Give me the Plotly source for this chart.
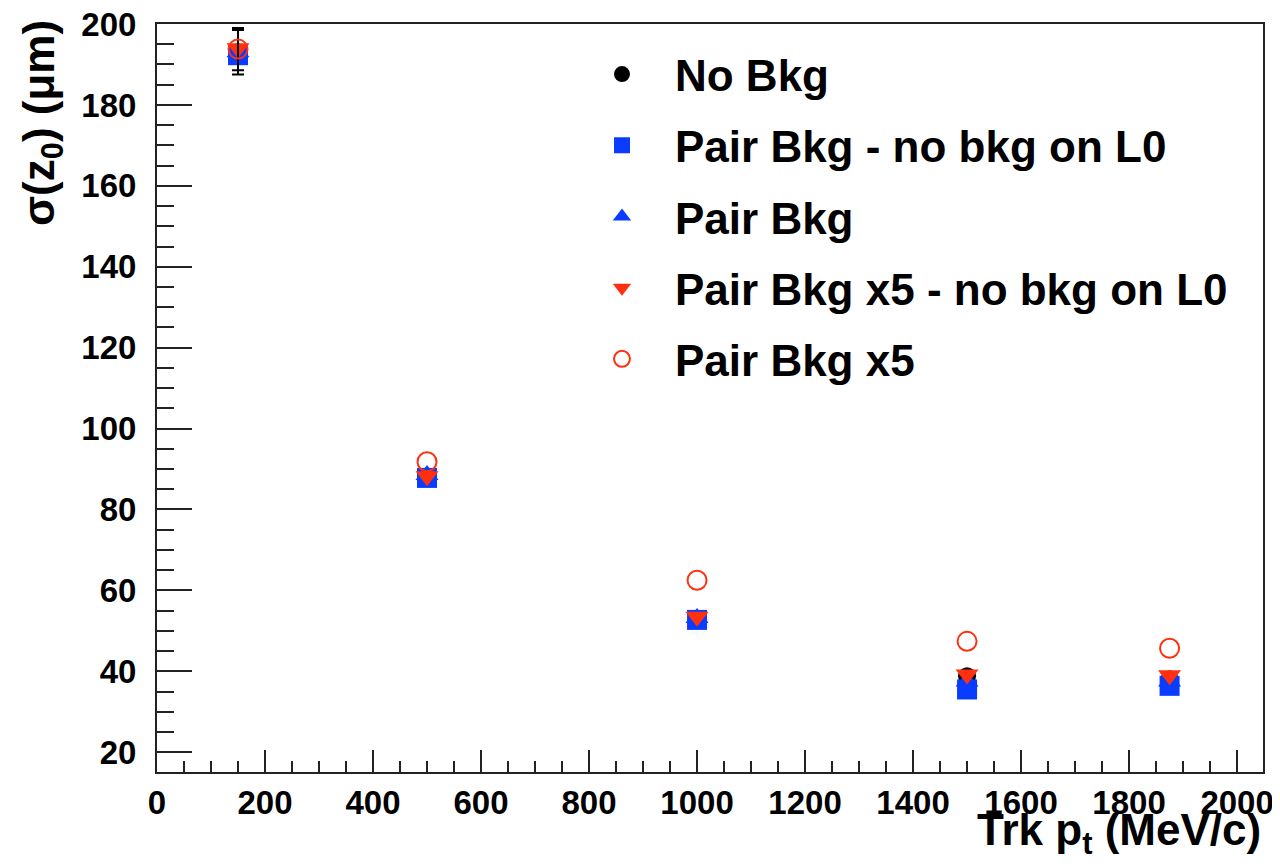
import plotly.graph_objects as go

# ---- data ----
pt = [150, 500, 1000, 1500, 1875]
no_bkg = [193.0, 88.0, 53.0, 38.8, 38.0]
no_bkg_err = [5.5]
pair_noL0 = [192.3, 87.8, 52.7, 35.5, 36.4]
pair = [193.0, 88.5, 53.2, 37.5, 37.5]
pair5_noL0 = [194.0, 88.2, 53.5, 39.2, 39.0]
pair5 = [193.8, 91.8, 62.5, 47.4, 45.7]
pair5_err = [5.2]

series_names = ["No Bkg", "Pair Bkg - no bkg on L0", "Pair Bkg",
                "Pair Bkg x5 - no bkg on L0", "Pair Bkg x5"]

x_ticks = [0, 200, 400, 600, 800, 1000, 1200, 1400, 1600, 1800, 2000]
y_ticks = [20, 40, 60, 80, 100, 120, 140, 160, 180, 200]

BLUE = "#0a3cff"
RED = "#ff3010"
FONT = "Liberation Sans"

fig = go.Figure()

fig.add_trace(go.Scatter(
    x=pt, y=no_bkg, mode="markers", name=series_names[0], legendgroup="a",
    marker=dict(symbol="circle", size=18, color="black"),
    error_y=dict(type="data", array=no_bkg_err, color="black", thickness=2, width=6),
))
fig.add_trace(go.Scatter(
    x=pt, y=pair_noL0, mode="markers", name=series_names[1], legendgroup="b",
    marker=dict(symbol="square", size=20, color=BLUE),
))
fig.add_trace(go.Scatter(
    x=pt, y=pair, mode="markers", name=series_names[2], legendgroup="c",
    marker=dict(symbol="triangle-up", size=20, color=BLUE),
))
fig.add_trace(go.Scatter(
    x=pt, y=pair5_noL0, mode="markers", name=series_names[3], legendgroup="d",
    marker=dict(symbol="triangle-down", size=20, color=RED),
))
fig.add_trace(go.Scatter(
    x=pt, y=pair5, mode="markers", name=series_names[4], legendgroup="e",
    marker=dict(symbol="circle-open", size=19, color=RED, line=dict(width=2, color=RED)),
    error_y=dict(type="data", array=pair5_err, color="black", thickness=2, width=6),
))

# the page body adds an 8px margin, so the figure is sized/offset to compensate
fig.update_layout(
    width=1264, height=850,
    margin=dict(l=149, r=9, t=16, b=86, autoexpand=False),
    paper_bgcolor="white", plot_bgcolor="white",
    font=dict(family=FONT, color="black", size=33, weight="bold"),
    showlegend=True,
    legend=dict(
        x=0.3725, y=0.98, xanchor="left", yanchor="top",
        font=dict(family=FONT, size=44, color="black", weight="bold"),
        bgcolor="rgba(0,0,0,0)", borderwidth=0,
        traceorder="grouped", tracegroupgap=11, itemwidth=96,
    ),
    xaxis=dict(
        range=[0, 2048], tickvals=x_ticks, ticktext=[str(v) for v in x_ticks],
        ticks="inside", ticklen=22, tickwidth=2, tickcolor="#222",
        minor=dict(dtick=50, tick0=0, ticks="inside", ticklen=11, tickwidth=2, tickcolor="#222"),
        showline=True, linecolor="#222", linewidth=2, mirror=True,
        showgrid=False, zeroline=False, automargin=False,
        tickfont=dict(family=FONT, size=33, color="black", weight="bold"),
        ticklabelstandoff=0, ticklabeloverflow="allow",
    ),
    yaxis=dict(
        range=[15.1, 200.01], tickvals=y_ticks, ticktext=[str(v) for v in y_ticks],
        ticks="inside", ticklen=35, tickwidth=2, tickcolor="#222",
        minor=dict(dtick=5, tick0=0, ticks="inside", ticklen=17, tickwidth=2, tickcolor="#222"),
        showline=True, linecolor="#222", linewidth=2, mirror=True,
        showgrid=False, zeroline=False, automargin=False,
        tickfont=dict(family=FONT, size=33, color="black", weight="bold"),
        ticklabelstandoff=12, ticklabeloverflow="allow",
    ),
    annotations=[
        dict(text="Trk p<sub>t</sub> (MeV/c)", xref="paper", yref="paper",
             x=1.0, y=-0.0414, xanchor="right", yanchor="top", showarrow=False,
             font=dict(family=FONT, size=44, color="black", weight="bold")),
        dict(text="σ(z<sub>0</sub>) (μm)", xref="paper", yref="paper",
             x=-0.104, y=1.008, xanchor="center", yanchor="top", showarrow=False,
             textangle=-90,
             font=dict(family=FONT, size=44, color="black", weight="bold")),
    ],
)

fig.write_html("out.html")
